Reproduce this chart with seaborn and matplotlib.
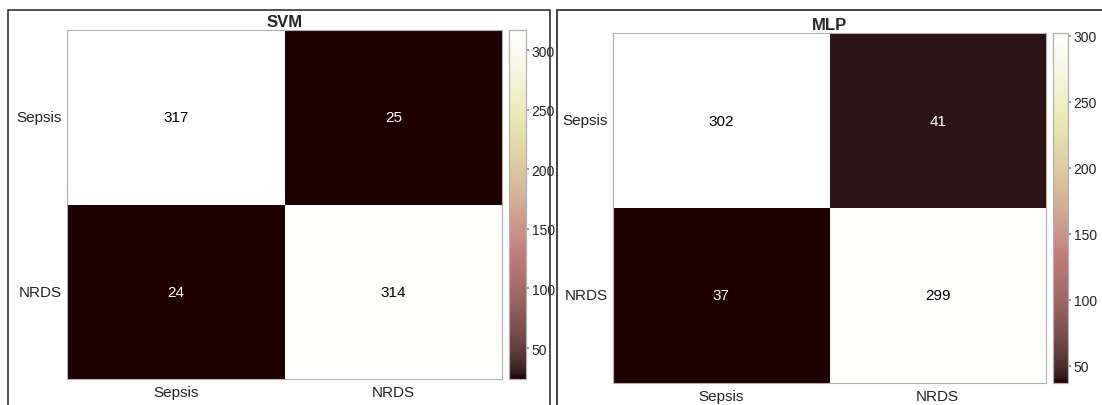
import numpy as np
import pandas as pd
import matplotlib
matplotlib.use("Agg")
import matplotlib.pyplot as plt
from matplotlib.patches import Rectangle
import seaborn as sns

# Confusion-matrix counts (rows: true class, columns: predicted class)
classes = ["Sepsis", "NRDS"]
svm_counts = [[317, 25],
              [24, 314]]
mlp_counts = [[302, 41],
              [37, 299]]
cbar_ticks = [50, 100, 150, 200, 250, 300]

sns.set_theme(style="white")
plt.rcParams["font.family"] = ["Liberation Sans", "DejaVu Sans"]

W, H = 1102, 406
fig = plt.figure(figsize=(W / 100, H / 100), dpi=100)
fig.patch.set_facecolor("white")


def fx(px):
    return px / W


def fy(py):
    return 1 - py / H


# Panel frames
fig.patches.append(Rectangle((fx(8), fy(420)), fx(549.5 - 8), (420 - 11) / H,
                             transform=fig.transFigure, fill=False,
                             edgecolor="#333333", linewidth=1.2))
fig.patches.append(Rectangle((fx(557), fy(420)), fx(600), (420 - 11) / H,
                             transform=fig.transFigure, fill=False,
                             edgecolor="#222222", linewidth=1.2))


def draw(title, counts, hm_box, cb_box):
    x0, y0, x1, y1 = hm_box
    ax = fig.add_axes([fx(x0), fy(y1), fx(x1 - x0), (y1 - y0) / H])
    c0, c1 = cb_box
    cax = fig.add_axes([fx(c0), fy(y1), fx(c1 - c0), (y1 - y0) / H])
    df = pd.DataFrame(counts, index=classes, columns=classes)
    sns.heatmap(df, ax=ax, cbar_ax=cax, cmap="pink", annot=True, fmt="d",
                annot_kws={"fontsize": 11}, cbar_kws={"ticks": cbar_ticks})
    for t in ax.texts:
        v = int(t.get_text())
        t.set_color("black" if v > 150 else "white")
    ax.set_title(title, fontsize=12, fontweight="bold", pad=3)
    ax.tick_params(axis="both", length=0, labelsize=11, colors="#222222")
    ax.tick_params(axis="x", pad=4)
    ax.tick_params(axis="y", pad=4)
    ax.set_yticklabels(classes, rotation=0)
    ax.set_xticklabels(classes, rotation=0)
    for s in ax.spines.values():
        s.set_visible(True)
        s.set_color("#b0b0b0")
        s.set_linewidth(0.8)
    cax.tick_params(axis="y", length=2, direction="out", labelsize=10,
                    colors="#222222", pad=2)
    cax.tick_params(axis="y", color="#888888")
    for s in cax.spines.values():
        s.set_visible(True)
        s.set_color("#b0b0b0")
        s.set_linewidth(0.8)
    return ax


draw("SVM", svm_counts, (67, 31, 502, 380), (509, 526))
draw("MLP", mlp_counts, (613, 34, 1046, 384), (1053, 1068))

fig.savefig("out.png", dpi=100, facecolor="white")
